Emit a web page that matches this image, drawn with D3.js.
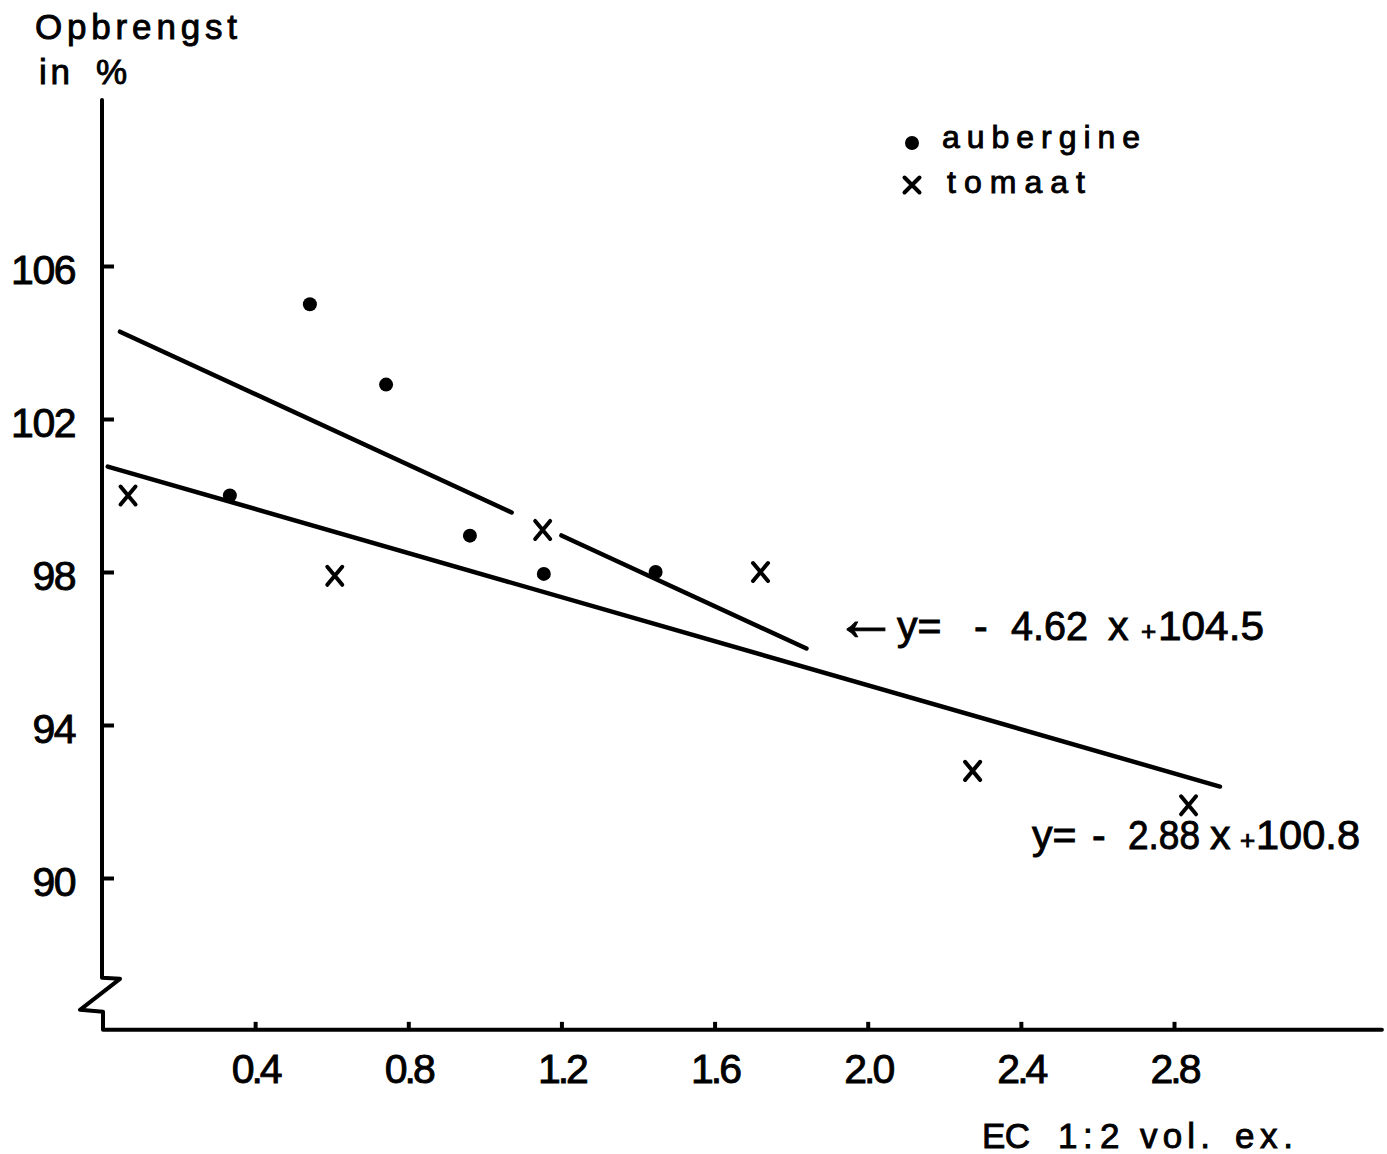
<!DOCTYPE html>
<html><head><meta charset="utf-8">
<script src="https://cdn.jsdelivr.net/npm/d3@7"></script>
<style>
html,body{margin:0;padding:0;background:#fff;}
svg{display:block;}
svg text{font-family:"Liberation Sans", Arial, sans-serif; fill:#000; stroke:#000; stroke-width:0.9px;}
</style></head><body>
<svg id="chart" width="1387" height="1154"></svg>
<script>
// ---- data ----
const aubergineEC    = [0.334, 0.543, 0.742, 0.961, 1.154, 1.446];
const aubergineYield = [100.0, 105.0, 102.9, 98.95, 97.95, 98.0];
const tomaatEC       = [0.068, 0.608, 1.151, 1.72, 2.274, 2.838];
const tomaatYield    = [100.0, 97.9, 99.1, 98.0, 92.8, 91.9];
const yTicks = [90, 94, 98, 102, 106];
const xTicks = [0.4, 0.8, 1.2, 1.6, 2.0, 2.4, 2.8];
const fitSlopes     = [-4.62, -2.88];
const fitIntercepts = [104.5, 100.8];
const fitSegments   = [[[0.047, 1.07], [1.2, 1.84]], [[0.015, 2.92]]];
const legendLabels  = ["aubergine", "tomaat"];
const yTitle = ["Opbrengst", "in", "%"];
const xTitle = ["EC", "1", ":", "2", "vol.", "ex."];
const xDomainEnd = 3.343, yDomainTop = 110.34, yDomainBottom = 86.03;

(function () {
const svg = d3.select("#chart");
const x = d3.scaleLinear().domain([0, 2.8]).range([102, 1174]);
const y = d3.scaleLinear().domain([90, 106]).range([878, 266]);
const ax0 = x(0), base = y(yDomainBottom), yTopPx = y(yDomainTop), xRightPx = x(xDomainEnd);

// ---- axes lines (with break) ----
const axisPath = d3.path();
axisPath.moveTo(ax0, yTopPx);
axisPath.lineTo(ax0, base - 52);
axisPath.lineTo(ax0 + 18, base - 51);
axisPath.lineTo(ax0 - 22, base - 20);
axisPath.lineTo(ax0 + 1, base - 18);
axisPath.lineTo(ax0 + 1, base);
axisPath.lineTo(xRightPx, base);
svg.append("path").attr("d", axisPath.toString())
  .attr("fill", "none").attr("stroke", "#000").attr("stroke-width", 4)
  .attr("stroke-linejoin", "round").attr("stroke-linecap", "round");

// y axis
const yAxis = svg.append("g").attr("transform", `translate(${ax0},0)`)
  .call(d3.axisLeft(y).tickValues(yTicks).tickSize(-12).tickPadding(27).tickFormat(d3.format("d")));
yAxis.select(".domain").remove();
yAxis.selectAll(".tick line").attr("stroke", "#000").attr("stroke-width", 4);
yAxis.selectAll(".tick text").attr("dy", "0.43em")
  .style("font-size", "41px").style("letter-spacing", "-1.5px")
  .style("font-family", '"Liberation Sans", Arial, sans-serif').attr("fill", "#000");

// x axis
const xAxis = svg.append("g").attr("transform", `translate(0,${base})`)
  .call(d3.axisBottom(x).tickValues(xTicks).tickSize(-8).tickPadding(24).tickFormat(d3.format(".1f")));
xAxis.select(".domain").remove();
xAxis.selectAll(".tick line").attr("stroke", "#000").attr("stroke-width", 4);
xAxis.selectAll(".tick text")
  .style("font-size", "41px").style("letter-spacing", "-3px")
  .style("font-family", '"Liberation Sans", Arial, sans-serif').attr("fill", "#000");

// ---- titles ----
svg.append("text").attr("x", 35).attr("y", 39).attr("font-size", 35)
  .attr("textLength", 202).attr("lengthAdjust", "spacing").text(yTitle[0]);
const t2 = svg.append("text").attr("y", 84).attr("font-size", 35);
t2.append("tspan").attr("x", 39).attr("textLength", 31).text(yTitle[1]);
t2.append("tspan").attr("x", 96).text(yTitle[2]);

const xt = svg.append("text").attr("y", 1148).attr("font-size", 35);
const xtPos = [982, 1058, 1083, 1100, 1140, 1235];
const xtLen = [48, 0, 0, 0, 70, 58];
xtPos.forEach((px, i) => {
  const s = xt.append("tspan").attr("x", px).text(xTitle[i]);
  if (xtLen[i]) s.attr("textLength", xtLen[i]).attr("lengthAdjust", "spacing");
});

// ---- regression lines ----
fitSlopes.forEach((m, i) => {
  fitSegments[i].forEach(seg => {
    svg.append("line")
      .attr("x1", x(seg[0])).attr("y1", y(fitIntercepts[i] + m * seg[0]))
      .attr("x2", x(seg[1])).attr("y2", y(fitIntercepts[i] + m * seg[1]))
      .attr("stroke", "#000").attr("stroke-width", 4.5).attr("stroke-linecap", "round");
  });
});

// ---- points ----
const aubData = aubergineEC.map((e, i) => ({e, v: aubergineYield[i]}));
const tomData = tomaatEC.map((e, i) => ({e, v: tomaatYield[i]}));
svg.append("g").selectAll("circle").data(aubData).join("circle")
  .attr("cx", d => x(d.e)).attr("cy", d => y(d.v)).attr("r", 7).attr("fill", "#000");
const crossPath = (w, h) => `M${-w},${-h}L${w},${h}M${w},${-h}L${-w},${h}`;
svg.append("g").selectAll("path").data(tomData).join("path")
  .attr("transform", d => `translate(${x(d.e)},${y(d.v)})`)
  .attr("d", crossPath(7.5, 9)).attr("stroke", "#000").attr("stroke-width", 4)
  .attr("stroke-linecap", "round").attr("fill", "none");

// ---- legend ----
svg.append("circle").attr("cx", 912).attr("cy", 143).attr("r", 7).attr("fill", "#000");
svg.append("path").attr("transform", "translate(912,185)").attr("d", crossPath(7.5, 7.5))
  .attr("stroke", "#000").attr("stroke-width", 4).attr("stroke-linecap", "round");
svg.append("text").attr("x", 942).attr("y", 148).attr("font-size", 32)
  .attr("textLength", 198).attr("lengthAdjust", "spacing").text(legendLabels[0]);
svg.append("text").attr("x", 947).attr("y", 193).attr("font-size", 32)
  .attr("textLength", 138).attr("lengthAdjust", "spacing").text(legendLabels[1]);

// ---- equation labels ----
function equation(parts, baseline) {
  const t = svg.append("text").attr("y", baseline).attr("font-size", 41);
  parts.forEach(p => {
    const s = t.append("tspan").attr("x", p[1]).text(p[0]);
    if (p[2]) s.attr("font-size", p[2]);
    if (p[3]) s.attr("textLength", p[3]).attr("lengthAdjust", "spacingAndGlyphs");
  });
}
equation([["\u2190", 834, 64], ["y=", 897, 41], ["-", 974], [(fitSlopes[0] * -1).toFixed(2), 1011, 41, 77],
          ["x", 1108], ["+", 1141, 26], [fitIntercepts[0].toFixed(1), 1158, 41, 106]], 640);
equation([["y=", 1032], ["-", 1092], [(fitSlopes[1] * -1).toFixed(2), 1128, 41, 72],
          ["x", 1210], ["+", 1240, 26], [fitIntercepts[1].toFixed(1), 1256, 41, 104]], 849);
})();
</script>
</body></html>
